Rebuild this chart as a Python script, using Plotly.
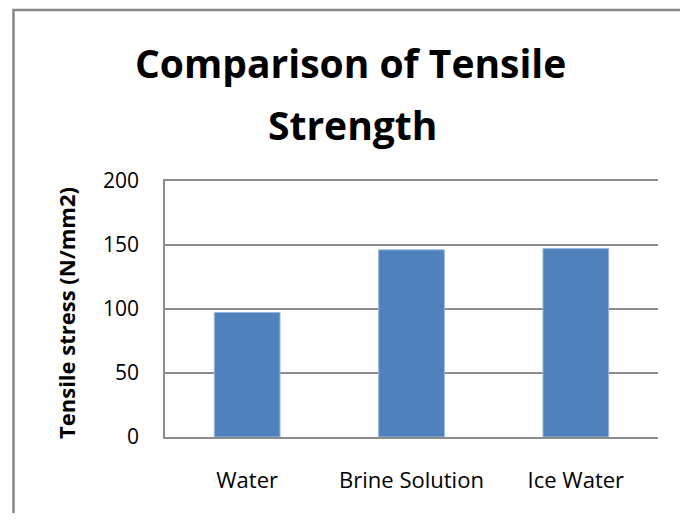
import plotly.graph_objects as go

categories = ["Water", "Brine Solution", "Ice Water"]
tensile_stress = [97.3, 146.2, 147.2]
y_ticks = [0, 50, 100, 150, 200]

# page offset of the plotly div (default body margin)
OFF = 8
W, H = 688 - OFF, 521 - 2 * OFF
# plot area in page pixels
PL, PR, PT, PB = 165, 658, 181, 437
L, R, T, B = PL - OFF, W - (PR - OFF), PT - OFF, H - (PB - OFF)
pw, ph = PR - PL, PB - PT

def px_x(x):
    return (x - PL) / pw

def px_y(y):
    return (PB - y) / ph

FONT = "Open Sans"
GRID = "#8C8C8C"

fig = go.Figure(go.Bar(
    x=categories,
    y=tensile_stress,
    width=0.4,
    marker=dict(color="#4F81BD", line=dict(color="#9AB6DC", width=1)),
))

fig.update_layout(
    width=W, height=H,
    margin=dict(l=L, r=R, t=T, b=B, pad=0),
    paper_bgcolor="white",
    plot_bgcolor="white",
    showlegend=False,
    font=dict(family=FONT, color="black"),
    xaxis=dict(
        showgrid=False,
        showline=True, linecolor=GRID, linewidth=1.5, mirror=True,
        ticks="", tickfont=dict(size=22, family=FONT),
        ticklabelstandoff=23,
        fixedrange=True,
    ),
    yaxis=dict(
        range=[0, 200],
        tickvals=y_ticks,
        showgrid=True, gridcolor=GRID, gridwidth=1.5,
        showline=True, linecolor=GRID, linewidth=1.5,
        zeroline=False,
        ticks="", tickfont=dict(size=21, family=FONT),
        ticklabelstandoff=20,
        fixedrange=True,
    ),
    shapes=[dict(
        type="rect", xref="paper", yref="paper",
        x0=px_x(13.5), x1=px_x(684), y0=px_y(560), y1=px_y(10),
        line=dict(color="#878787", width=2.5), fillcolor="rgba(0,0,0,0)",
        layer="above",
    )],
    annotations=[
        dict(
            text="<b>Comparison of Tensile</b>", xref="paper", yref="paper",
            x=px_x(350), y=px_y(62), xanchor="center", yanchor="middle",
            showarrow=False, font=dict(size=39, family=FONT, color="black"),
        ),
        dict(
            text="<b>Strength</b>", xref="paper", yref="paper",
            x=px_x(352), y=px_y(124.5), xanchor="center", yanchor="middle",
            showarrow=False, font=dict(size=39, family=FONT, color="black"),
        ),
        dict(
            text="<b>Tensile stress (N/mm2)</b>", xref="paper", yref="paper",
            x=px_x(66), y=px_y(313), xanchor="center", yanchor="middle",
            textangle=-90,
            showarrow=False, font=dict(size=22, family=FONT, color="black"),
        ),
    ],
)

fig.write_html("out.html")
